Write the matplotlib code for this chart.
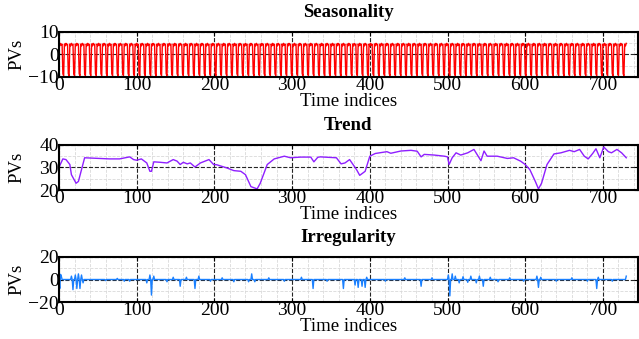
import numpy as np
import matplotlib
matplotlib.use("Agg")
import matplotlib.pyplot as plt
from matplotlib.ticker import MultipleLocator

plt.rcParams['font.family'] = 'serif'
plt.rcParams['font.serif'] = ['Liberation Serif', 'DejaVu Serif']
plt.rcParams['mathtext.fontset'] = 'stix'

n_days = 731

# weekly seasonal pattern (repeats every 7 days)
season_week = [4.6, 3.8, 4.9, 4.2, 4.5, -8.6, -9.4]

# trend (day index, value)
trend_x = [0, 5, 9, 14, 16, 22, 25, 33, 52, 65, 78, 91, 96, 100, 106, 113, 117, 119,
           122, 130, 139, 147, 152, 156, 160, 165, 169, 175, 182, 193, 199, 203, 216,
           225, 234, 240, 247, 251, 255, 259, 268, 277, 290, 298, 311, 324, 328, 333,
           336, 357, 363, 368, 374, 383, 387, 394, 400, 407, 422, 427, 440, 453, 461,
           466, 470, 483, 496, 500, 502, 506, 511, 517, 526, 534, 543, 547, 551, 564,
           577, 585, 594, 600, 606, 613, 617, 621, 628, 637, 646, 657, 663, 670, 676,
           681, 687, 691, 696, 701, 707, 711, 718, 724, 730]
trend_y = [30.1, 33.8, 33.5, 31.3, 26.8, 23.0, 23.8, 34.3, 34.0, 33.8, 33.8, 34.7, 33.5,
           33.2, 33.8, 32.0, 28.3, 28.3, 32.5, 32.3, 32.0, 33.5, 32.8, 31.3, 32.3, 31.6,
           32.0, 30.2, 32.0, 33.5, 31.3, 31.2, 29.8, 28.6, 28.3, 26.8, 21.5, 21.0, 20.5,
           23.0, 31.3, 33.8, 35.0, 34.3, 34.6, 34.6, 32.5, 34.5, 34.7, 34.3, 31.6, 32.0,
           33.5, 29.0, 26.5, 28.3, 35.0, 36.2, 37.0, 36.3, 37.3, 37.6, 37.2, 34.7, 35.8,
           35.5, 35.0, 34.7, 31.3, 34.3, 36.5, 35.5, 36.5, 38.0, 33.0, 37.3, 35.0, 35.0,
           34.0, 34.3, 32.8, 31.3, 29.0, 23.8, 20.5, 23.0, 31.3, 36.0, 36.5, 37.6, 37.0,
           38.0, 35.0, 33.8, 36.3, 38.3, 34.3, 39.1, 37.0, 36.5, 38.0, 36.5, 34.3]

# irregular component: spikes (day index, value), zero elsewhere
irr_x = [1, 2, 3, 16, 18, 21, 23, 25, 27, 29, 31, 60, 75, 84, 91, 113, 117, 119, 122,
         139, 147, 156, 164, 175, 180, 195, 210, 225, 244, 248, 252, 270, 290, 312, 327,
         345, 366, 381, 385, 390, 394, 396, 420, 445, 466, 480, 501, 503, 506, 510, 515,
         520, 526, 530, 537, 541, 546, 555, 565, 580, 598, 615, 617, 620, 640, 660, 680,
         692, 694, 712, 730]
irr_y = [-8.0, 4.6, 3.0, 3.0, -9.0, 4.0, -8.0, 5.0, -8.0, 4.0, -3.0, -1.0, 1.0, -1.5,
         -1.5, -3.0, 4.0, -13.8, 3.0, -2.0, 2.0, -6.0, 2.0, -8.0, 3.0, -1.5, 1.5, -2.0,
         -2.0, 5.0, -2.0, 1.5, -1.5, 2.0, -8.0, -1.5, -8.0, -5.0, -7.0, -6.0, -7.0, 2.0,
         -1.5, 1.5, -6.0, 1.5, 4.0, -14.5, 5.0, 3.0, -3.0, 2.5, -2.5, 3.0, -3.0, 3.0,
         -6.0, 2.0, -2.0, 1.5, -1.5, 3.0, -7.0, 2.0, -1.5, 1.5, -1.5, -8.0, 2.0, -1.5, 3.0]

days = np.arange(n_days)
season = np.array(season_week * (n_days // 7 + 1))[:n_days]
irregular = np.zeros(n_days)
irregular[irr_x] = irr_y

fig = plt.figure(figsize=(6.39, 3.39), dpi=100)

panels = [
    ("Seasonality", days, season, '#ff0000', (-10, 10), 5, 0.773),
    ("Trend", trend_x, trend_y, '#8f1fff', (20, 40), 5, 0.4395),
    ("Irregularity", days, irregular, '#1a80ff', (-20, 20), 10, 0.109),
]

for title, xs, ys, color, ylim, yminor, bottom in panels:
    ax = fig.add_axes([0.0923, bottom, 0.906, 0.133])
    ax.plot(xs, ys, color=color, lw=1.0)
    ax.set_xlim(0, 745)
    ax.set_ylim(*ylim)
    ax.xaxis.set_major_locator(MultipleLocator(100))
    ax.xaxis.set_minor_locator(MultipleLocator(20))
    ax.set_yticks([ylim[0], (ylim[0] + ylim[1]) / 2, ylim[1]])
    ax.yaxis.set_minor_locator(MultipleLocator(yminor))
    ax.grid(which='major', ls='--', color='0.15', lw=0.8)
    ax.grid(which='minor', ls='--', color='0.85', lw=0.6)
    ax.set_axisbelow(True)
    ax.tick_params(which='major', direction='in', length=3, top=True, right=True,
                   labelsize=14, pad=0)
    ax.tick_params(which='minor', length=0)
    for sp in ax.spines.values():
        sp.set_linewidth(1.5)
    ax.set_title(title, fontsize=13.5, fontweight='bold', pad=11)
    ax.set_xlabel("Time indices", fontsize=13.5)
    ax.xaxis.set_label_coords(0.5, -0.36)
    ax.set_ylabel("PVs", fontsize=13.5)
    ax.yaxis.set_label_coords(-0.058, 0.5)

fig.savefig('out.png', dpi=100)
